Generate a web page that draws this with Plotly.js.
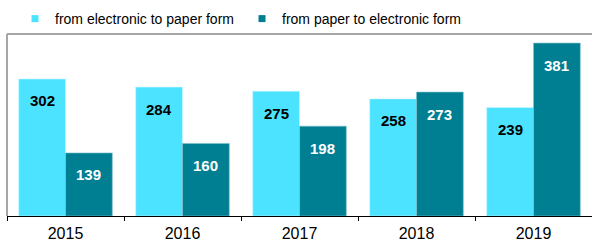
<!DOCTYPE html>
<html>
<head>
<meta charset="utf-8">
<script src="https://cdn.plot.ly/plotly-3.0.1.min.js"></script>
<style>html,body{margin:0;padding:0;background:#fff;}#chart{width:592px;height:241px;}</style>
</head>
<body>
<div id="chart"></div>
<script>
var years = ["2015", "2016", "2017", "2018", "2019"];
var electronicToPaper = [302, 284, 275, 258, 239];
var paperToElectronic = [139, 160, 198, 273, 381];
var seriesNames = ["from electronic to paper form", "from paper to electronic form"];

var lightColor = "#4BE3FF";
var darkColor = "#007F93";

var traces = [
  {type: "bar", x: years, y: electronicToPaper, name: seriesNames[0], showlegend: false,
   marker: {color: lightColor, line: {color: "#c8f6ff", width: 0.6}}, hoverinfo: "none"},
  {type: "bar", x: years, y: paperToElectronic, name: seriesNames[1], showlegend: false,
   marker: {color: darkColor, line: {color: "#7fc3cc", width: 0.6}}, hoverinfo: "none"},
  {type: "scatter", mode: "markers", x: [null], y: [null], name: seriesNames[0],
   marker: {symbol: "square", size: 7, color: lightColor}, hoverinfo: "none"},
  {type: "scatter", mode: "markers", x: [null], y: [null], name: seriesNames[1],
   marker: {symbol: "square", size: 7, color: darkColor}, hoverinfo: "none"}
];

var annotations = [];
years.forEach(function (yr, i) {
  annotations.push({x: i, y: electronicToPaper[i], xref: "x", yref: "y", xshift: -23.4, yshift: -22,
    text: "<b>" + electronicToPaper[i] + "</b>", showarrow: false,
    font: {family: "Liberation Sans, Arial, sans-serif", size: 15, color: "#000"}});
  annotations.push({x: i, y: paperToElectronic[i], xref: "x", yref: "y", xshift: 23.4, yshift: -22,
    text: "<b>" + paperToElectronic[i] + "</b>", showarrow: false,
    font: {family: "Liberation Sans, Arial, sans-serif", size: 15, color: "#fff"}});
});

var layout = {
  width: 592, height: 241,
  margin: {l: 7, r: 0, t: 34, b: 25, pad: 0},
  paper_bgcolor: "#fff", plot_bgcolor: "#fff",
  barmode: "group", bargap: 0.2, bargroupgap: 0,
  font: {family: "Liberation Sans, Arial, sans-serif", size: 14, color: "#000"},
  showlegend: true,
  legend: {orientation: "h", x: 0.0137, xanchor: "left", y: 1.0824, yanchor: "middle",
    font: {size: 14, color: "#000"}, traceorder: "normal",
    entrywidth: 182, entrywidthmode: "pixels", bgcolor: "rgba(0,0,0,0)"},
  xaxis: {type: "category", range: [-0.5, 4.5], showline: true, linecolor: "#000", linewidth: 1,
    ticks: "outside", tickson: "boundaries", ticklen: 4, tickcolor: "#000",
    tickfont: {size: 16}, tickangle: 0, ticklabelstandoff: 3,
    showgrid: false, zeroline: false, fixedrange: true},
  yaxis: {range: [0, 401], showticklabels: false, showgrid: false, zeroline: false,
    ticks: "", showline: false, fixedrange: true},
  annotations: annotations,
  shapes: [
    {type: "line", xref: "paper", yref: "paper", x0: 0, x1: 0, y0: 0, y1: 1,
     line: {color: "#A6A6A6", width: 2}},
    {type: "line", xref: "paper", yref: "paper", x0: 0, x1: 1, y0: 1, y1: 1,
     line: {color: "#A6A6A6", width: 2}}
  ]
};

Plotly.newPlot("chart", traces, layout, {displayModeBar: false, staticPlot: true});
</script>
</body>
</html>
